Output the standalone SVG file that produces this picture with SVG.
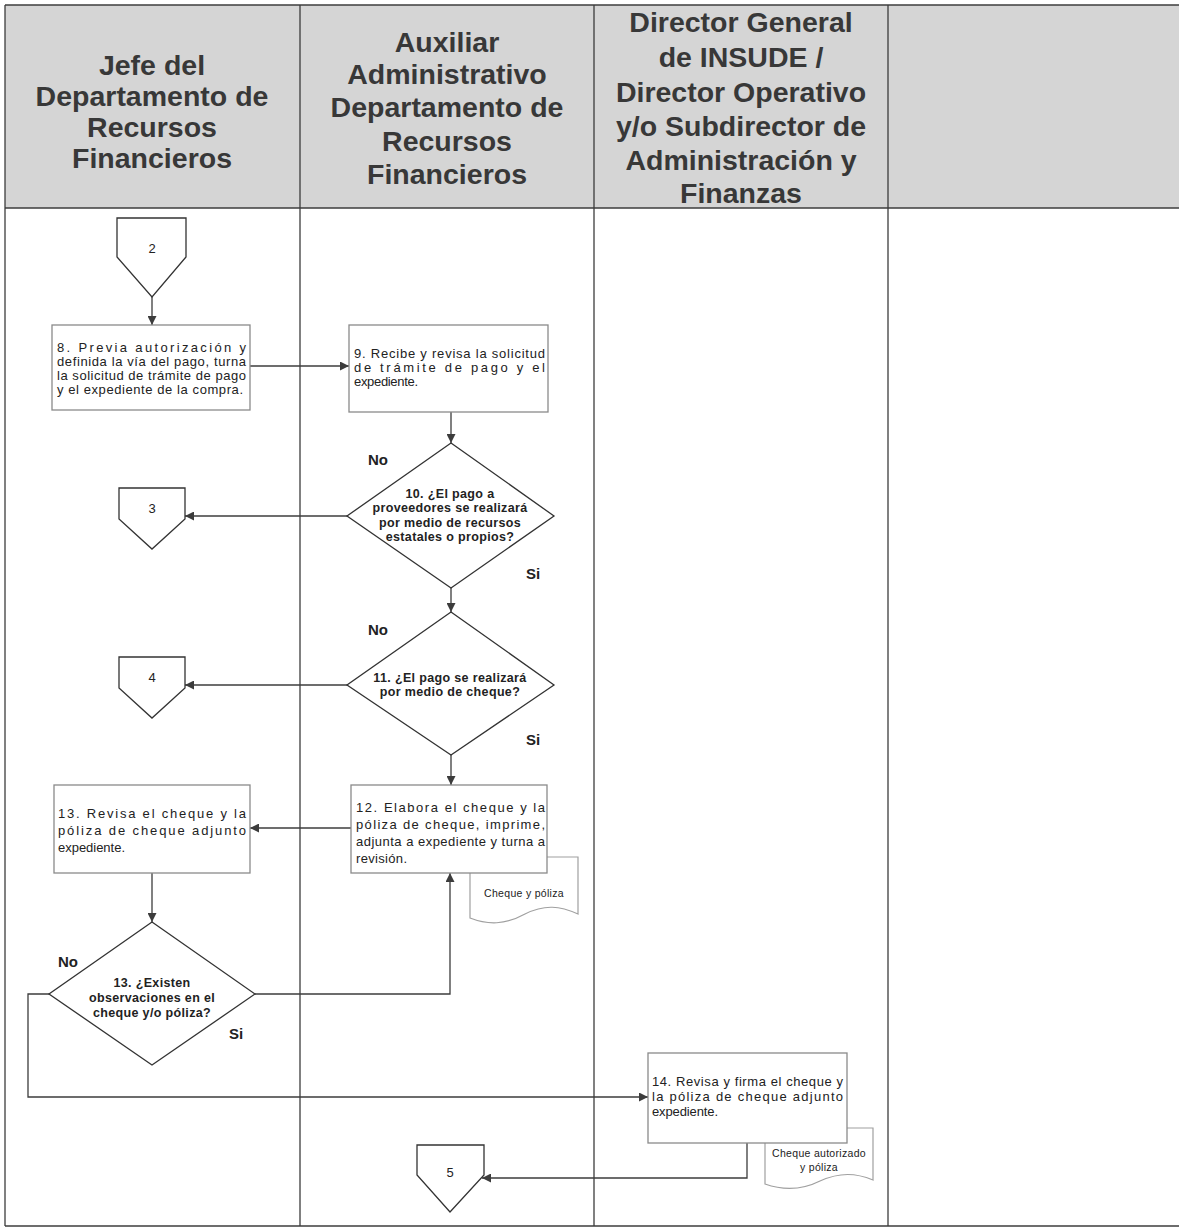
<svg xmlns="http://www.w3.org/2000/svg" width="1179" height="1228" viewBox="0 0 1179 1228">
<style>
.hdr{font-family:"Liberation Sans",Arial,sans-serif;font-size:28.5px;font-weight:bold;fill:#383838;text-anchor:middle}
.grid{stroke:#3c3c3c;stroke-width:1.3;fill:none}
.box{fill:#fff;stroke:#8a8a8a;stroke-width:1.3}
.doc{fill:#fff;stroke:#a0a0a0;stroke-width:1.2}
.sh{fill:#fff;stroke:#333;stroke-width:1.3}
.t{font-family:"Liberation Sans",Arial,sans-serif;font-size:13px;fill:#222}
.q{font-family:"Liberation Sans",Arial,sans-serif;font-size:12.5px;font-weight:bold;fill:#222;text-anchor:middle;letter-spacing:0.35px}
.lbl{font-family:"Liberation Sans",Arial,sans-serif;font-size:15px;font-weight:bold;fill:#222}
.num{font-family:"Liberation Sans",Arial,sans-serif;font-size:13px;fill:#222;text-anchor:middle}
.dt{font-family:"Liberation Sans",Arial,sans-serif;font-size:10.5px;fill:#222;text-anchor:middle;letter-spacing:0.3px}
.c{stroke:#3c3c3c;stroke-width:1.3;fill:none}
</style>
<defs>
<marker id="ah" viewBox="0 0 10 10" refX="10" refY="5" markerWidth="10" markerHeight="9" markerUnits="userSpaceOnUse" orient="auto">
<path d="M0,0 L10,5 L0,10 Z" fill="#3c3c3c"/>
</marker>
</defs>
<rect x="0" y="0" width="1179" height="1228" fill="#fff"/>
<g id="table">
<rect x="5" y="5" width="1174" height="203" fill="#d5d5d5"/>
<line class="grid" x1="5" y1="5" x2="1179" y2="5"/>
<line class="grid" x1="5" y1="208" x2="1179" y2="208"/>
<line class="grid" x1="5" y1="1226" x2="1179" y2="1226"/>
<line class="grid" x1="5" y1="5" x2="5" y2="1226"/>
<line class="grid" x1="300" y1="5" x2="300" y2="1226"/>
<line class="grid" x1="594" y1="5" x2="594" y2="1226"/>
<line class="grid" x1="888" y1="5" x2="888" y2="1226"/>
<text class="hdr" x="152" y="75">Jefe del</text>
<text class="hdr" x="152" y="106">Departamento de</text>
<text class="hdr" x="152" y="137">Recursos</text>
<text class="hdr" x="152" y="168">Financieros</text>
<text class="hdr" x="447" y="52">Auxiliar</text>
<text class="hdr" x="447" y="84">Administrativo</text>
<text class="hdr" x="447" y="117">Departamento de</text>
<text class="hdr" x="447" y="151">Recursos</text>
<text class="hdr" x="447" y="184">Financieros</text>
<text class="hdr" x="741" y="32">Director General</text>
<text class="hdr" x="741" y="67">de INSUDE /</text>
<text class="hdr" x="741" y="102">Director Operativo</text>
<text class="hdr" x="741" y="136">y/o Subdirector de</text>
<text class="hdr" x="741" y="170">Administración y</text>
<text class="hdr" x="741" y="203">Finanzas</text>
</g>
<g id="connectors">
<path class="c" d="M152,297 V325" marker-end="url(#ah)"/>
<path class="c" d="M250,366 H349" marker-end="url(#ah)"/>
<path class="c" d="M451,412 V443" marker-end="url(#ah)"/>
<path class="c" d="M347,516 H185" marker-end="url(#ah)"/>
<path class="c" d="M451,588 V612" marker-end="url(#ah)"/>
<path class="c" d="M347,685 H185" marker-end="url(#ah)"/>
<path class="c" d="M451,755 V785" marker-end="url(#ah)"/>
<path class="c" d="M351,828 H250" marker-end="url(#ah)"/>
<path class="c" d="M152,873 V922" marker-end="url(#ah)"/>
<path class="c" d="M255,994 H450 V873" marker-end="url(#ah)"/>
<path class="c" d="M49,994 H28 V1097 H648" marker-end="url(#ah)"/>
<path class="c" d="M747,1143 V1178 H482" marker-end="url(#ah)"/>
</g>
<g id="off2">
<polygon class="sh" points="117,218 186,218 186,257 152,297 117,257"/>
<text class="num" x="152" y="253">2</text>
</g>
<g id="step8">
<rect class="box" x="52" y="325" width="198" height="85"/>
<text class="t" x="57" y="352" textLength="189" lengthAdjust="spacing">8.   Previa   autorización   y</text>
<text class="t" x="57" y="366" textLength="189" lengthAdjust="spacing">definida la vía del pago, turna</text>
<text class="t" x="57" y="380" textLength="189" lengthAdjust="spacing">la solicitud de trámite de pago</text>
<text class="t" x="57" y="394" textLength="186" lengthAdjust="spacing">y el expediente de la compra.</text>
</g>
<g id="step9">
<rect class="box" x="349" y="325" width="199" height="87"/>
<text class="t" x="354" y="358" textLength="191" lengthAdjust="spacing">9. Recibe y revisa la solicitud</text>
<text class="t" x="354" y="372" textLength="191" lengthAdjust="spacing">de  trámite  de  pago  y  el</text>
<text class="t" x="354" y="386" textLength="64" lengthAdjust="spacing">expediente.</text>
</g>
<g id="dec10">
<polygon class="sh" points="451,443 554,516 451,588 347,516"/>
<text class="q" x="450" y="498">10. ¿El pago a</text>
<text class="q" x="450" y="512">proveedores se realizará</text>
<text class="q" x="450" y="527">por medio de recursos</text>
<text class="q" x="450" y="541">estatales o propios?</text>
<text class="lbl" x="368" y="465">No</text>
<text class="lbl" x="526" y="579">Si</text>
</g>
<g id="off3">
<polygon class="sh" points="119,488 185,488 185,519 152,549 119,519"/>
<text class="num" x="152" y="513">3</text>
</g>
<g id="dec11">
<polygon class="sh" points="451,612 554,685 451,755 347,685"/>
<text class="q" x="450" y="682">11. ¿El pago se realizará</text>
<text class="q" x="450" y="696">por medio de cheque?</text>
<text class="lbl" x="368" y="635">No</text>
<text class="lbl" x="526" y="745">Si</text>
</g>
<g id="off4">
<polygon class="sh" points="119,657 185,657 185,688 152,718 119,688"/>
<text class="num" x="152" y="682">4</text>
</g>
<g id="doc12">
<path class="doc" d="M470,857 H578 V914 C560,906 545,904 525,914 C505,925 488,925 470,918 Z"/>
<text class="dt" x="524" y="897">Cheque y póliza</text>
</g>
<g id="step12">
<rect class="box" x="351" y="785" width="196" height="88"/>
<text class="t" x="356" y="812" textLength="189" lengthAdjust="spacing">12.  Elabora  el  cheque  y  la</text>
<text class="t" x="356" y="829" textLength="189" lengthAdjust="spacing">póliza  de  cheque,    imprime,</text>
<text class="t" x="356" y="846" textLength="189" lengthAdjust="spacing">adjunta a expediente y turna a</text>
<text class="t" x="356" y="863" textLength="51" lengthAdjust="spacing">revisión.</text>
</g>
<g id="step13">
<rect class="box" x="54" y="785" width="196" height="88"/>
<text class="t" x="58" y="818" textLength="188" lengthAdjust="spacing">13.  Revisa  el  cheque  y  la</text>
<text class="t" x="58" y="835" textLength="188" lengthAdjust="spacing">póliza  de  cheque  adjunto</text>
<text class="t" x="58" y="852" textLength="67" lengthAdjust="spacing">expediente.</text>
</g>
<g id="dec13">
<polygon class="sh" points="152,922 255,994 152,1065 49,994"/>
<text class="q" x="152" y="987">13. ¿Existen</text>
<text class="q" x="152" y="1002">observaciones en el</text>
<text class="q" x="152" y="1017">cheque y/o póliza?</text>
<text class="lbl" x="58" y="967">No</text>
<text class="lbl" x="229" y="1039">Si</text>
</g>
<g id="doc14">
<path class="doc" d="M765,1128 H873 V1180 C856,1173 840,1172 820,1181 C800,1191 782,1190 765,1184 Z"/>
<text class="dt" x="819" y="1157">Cheque autorizado</text>
<text class="dt" x="819" y="1171">y póliza</text>
</g>
<g id="step14">
<rect class="box" x="648" y="1053" width="199" height="90"/>
<text class="t" x="652" y="1086" textLength="191" lengthAdjust="spacing">14. Revisa y firma el cheque y</text>
<text class="t" x="652" y="1101" textLength="191" lengthAdjust="spacing">la  póliza  de  cheque  adjunto</text>
<text class="t" x="652" y="1116" textLength="66" lengthAdjust="spacing">expediente.</text>
</g>
<g id="off5">
<polygon class="sh" points="417,1145 484,1145 484,1175 450,1212 417,1175"/>
<text class="num" x="450" y="1177">5</text>
</g>
</svg>
